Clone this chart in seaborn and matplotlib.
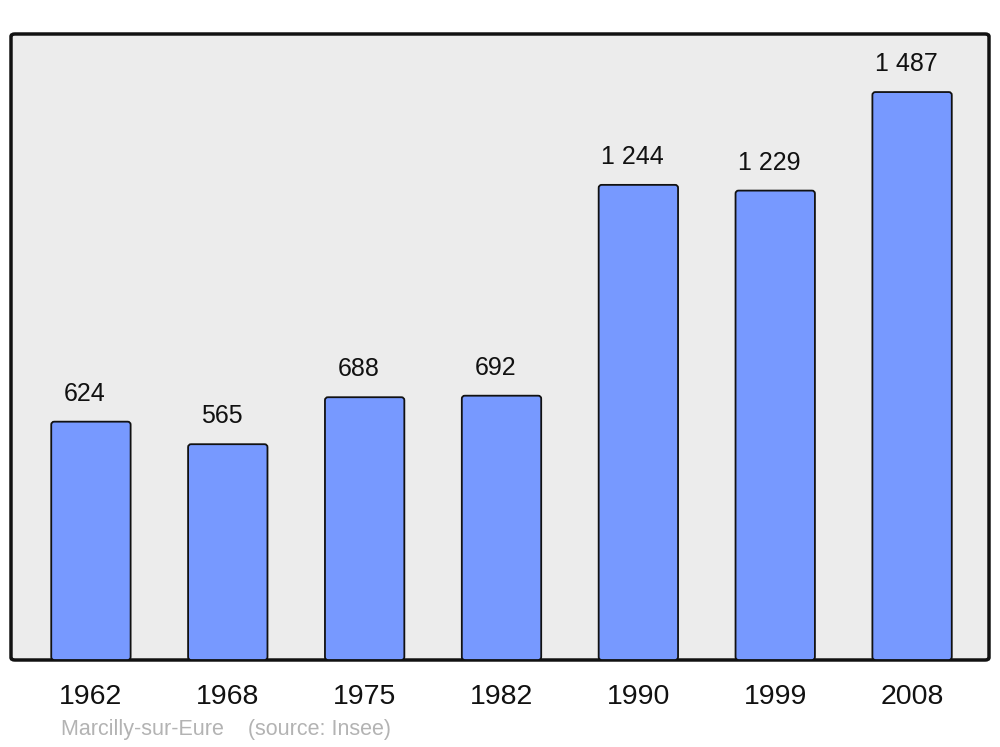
import matplotlib
matplotlib.use("Agg")
import matplotlib.pyplot as plt
import seaborn as sns
import pandas as pd
from matplotlib.patches import FancyBboxPatch

years = ["1962", "1968", "1975", "1982", "1990", "1999", "2008"]
population = [624, 565, 688, 692, 1244, 1229, 1487]
value_labels = ["624", "565", "688", "692", "1 244", "1 229", "1 487"]
footer = "Marcilly-sur-Eure    (source: Insee)"

sns.set_theme(style="white")
plt.rcParams["font.family"] = ["Liberation Sans", "DejaVu Sans"]

df = pd.DataFrame({"year": years, "pop": population})

fig = plt.figure(figsize=(10, 7.47), dpi=100)
W, H = 1000, 747
ax = fig.add_axes([11 / W, 1 - 660 / H, 978 / W, 626 / H])
ax.set_facecolor("none")

frame = FancyBboxPatch((0, 0), 1, 1, boxstyle="round,pad=0,rounding_size=0.004",
                       transform=ax.transAxes, facecolor="#ececec",
                       edgecolor="#111111", linewidth=2.5, zorder=0, clip_on=False)
ax.add_patch(frame)

sns.barplot(data=df, x="year", y="pop", ax=ax, color="#7799ff", width=0.58,
            edgecolor="#111111", linewidth=1.3, saturation=1, zorder=2)

ax.set_xlim(-0.584, 6.562)
ax.set_ylim(0, 1639)

# replace bars with slightly rounded versions of the same geometry
for p in list(ax.patches):
    if p is frame:
        continue
    x0, y0, w, h = p.get_x(), p.get_y(), p.get_width(), p.get_height()
    rb = FancyBboxPatch((x0, y0), w, h, boxstyle="round,pad=0,rounding_size=0.022",
                        mutation_aspect=357, facecolor=p.get_facecolor(),
                        edgecolor="#111111", linewidth=1.3, zorder=2)
    p.set_visible(False)
    ax.add_patch(rb)

for i, (v, lab) in enumerate(zip(population, value_labels)):
    ax.annotate(lab, (i, v), xytext=(-6, 28), textcoords="offset pixels",
                ha="center", va="center", fontsize=18, color="#111111")

for s in ax.spines.values():
    s.set_visible(False)
ax.set_yticks([])
ax.set_xlabel("")
ax.set_ylabel("")
ax.tick_params(axis="x", length=0, pad=17, labelsize=20.5, labelcolor="#111111")

fig.text(61 / W, 1 - 730 / H, footer, ha="left", va="center",
         fontsize=15.5, color="#b3b3b3")

fig.savefig("out.png", dpi=100)
